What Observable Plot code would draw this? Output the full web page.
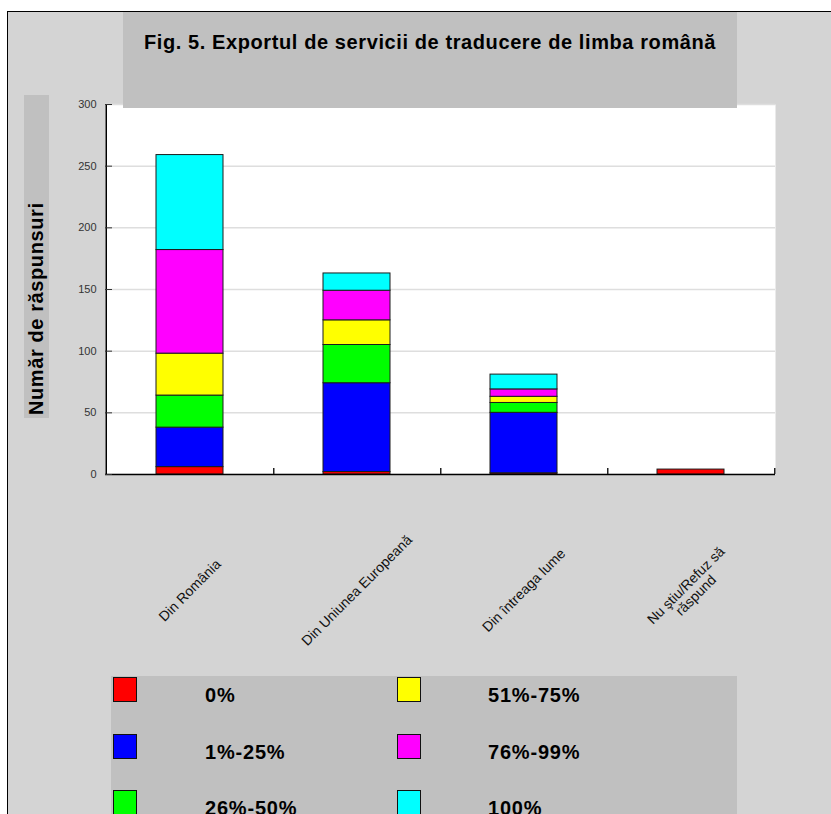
<!DOCTYPE html>
<html lang="ro">
<head>
<meta charset="utf-8">
<script src="https://cdn.jsdelivr.net/npm/d3@7"></script>
<script src="https://cdn.jsdelivr.net/npm/@observablehq/plot@0.6"></script>
<style>
  html, body { margin: 0; padding: 0; background: #ffffff; overflow: hidden; }
  body { width: 831px; height: 814px; position: relative; font-family: "Liberation Sans", Arial, sans-serif; }
  #frame { position: absolute; left: 7px; top: 11px; width: 900px; height: 900px;
           background: #d4d4d4; border-left: 1.5px solid #000; border-top: 1.5px solid #000; }
  #chart { position: absolute; left: 0; top: 0; }
  #title { position: absolute; left: 123px; top: 12px; width: 614px; height: 96px; background: #c0c0c0; }
  #title span { position: absolute; left: 0; right: 0; top: 20px; text-align: center;
                font-weight: bold; font-size: 20px; line-height: 20px; letter-spacing: 0.6px; color: #000; white-space: nowrap; }
  #ybox { position: absolute; left: 24px; top: 95px; width: 25px; height: 323px; background: #c0c0c0; }
  #ylabel { position: absolute; left: 26.4px; top: 415px; transform-origin: 0 0; transform: rotate(-90deg);
            font-weight: bold; font-size: 20px; line-height: 20px; letter-spacing: 0.6px; white-space: nowrap; color: #000; }
  #legend { position: absolute; left: 111px; top: 676px; width: 626px; height: 200px; background: #c0c0c0; }
  .sw { position: absolute; width: 24px; height: 25px; box-sizing: border-box; border: 1.5px solid #111; }
  .lt { position: absolute; font-weight: bold; font-size: 20px; line-height: 20px; letter-spacing: 0.8px; white-space: nowrap; color: #000; }
</style>
</head>
<body>
<div id="frame"></div>
<div id="chart"></div>
<div id="title"><span>Fig. 5. Exportul de servicii de traducere de limba română</span></div>
<div id="ybox"></div>
<div id="ylabel">Număr de răspunsuri</div>
<div id="legend"></div>
<script>
// Destinations of exported Romanian translation services
const categories = [
  "Din România",
  "Din Uniunea Europeană",
  "Din întreaga lume",
  "Nu ştiu/Refuz să\nrăspund"
];

// Share of exports, one series per answer band
const seriesNames  = ["0%", "1%-25%", "26%-50%", "51%-75%", "76%-99%", "100%"];
const seriesColors = ["#ff0000", "#0000ff", "#00ff00", "#ffff00", "#ff00ff", "#00ffff"];

// Number of answers per destination, for each band
const v0pct    = [6, 2, 1, 4];
const v1to25   = [32, 72, 49, 0];
const v26to50  = [26, 31, 8, 0];
const v51to75  = [34, 20, 5, 0];
const v76to99  = [84, 24, 6, 0];
const v100pct  = [77, 14, 12, 0];

const yTicks = [0, 50, 100, 150, 200, 250, 300];

const seriesValues = [v0pct, v1to25, v26to50, v51to75, v76to99, v100pct];
const rows = [];
seriesNames.forEach((s, si) => {
  categories.forEach((c, ci) => {
    const v = seriesValues[si][ci];
    if (v > 0) rows.push({cat: c, series: s, value: v});
  });
});

const W = 831, H = 660, ML = 105, MR = 56, MT = 104, MB = 186;
const step = (W - ML - MR) / categories.length;

const chart = Plot.plot({
  width: W,
  height: H,
  marginLeft: ML,
  marginRight: MR,
  marginTop: MT,
  marginBottom: MB,
  style: {background: "transparent", fontFamily: "'Liberation Sans', Arial, sans-serif", overflow: "visible"},
  x: {type: "band", domain: categories, paddingInner: 0.6, paddingOuter: 0.3, axis: null},
  y: {domain: [0, 300], axis: null},
  color: {domain: seriesNames, range: seriesColors},
  marks: [
    Plot.frame({fill: "#ffffff"}),
    Plot.gridY(yTicks, {stroke: "#dedede", strokeOpacity: 1, strokeWidth: 1.5}),
    Plot.barY(rows, {x: "cat", y: "value", fill: "series", stroke: "#1c1c1c", strokeWidth: 1}),
    Plot.ruleY([0], {stroke: "#000", strokeWidth: 1.5}),
    Plot.ruleX([categories[0]], {dx: -step / 2, y1: 0, y2: 300, stroke: "#000", strokeWidth: 1.5}),
    Plot.ruleX(categories, {x: d => d, dx: step / 2, y1: 0, y2: 0, insetTop: -6, stroke: "#222", strokeWidth: 1.5}),
    Plot.axisY({ticks: yTicks, tickSize: 7, dx: 7, tickPadding: 9, fontSize: 11, color: "#333", label: null, tickFormat: d => d}),
    Plot.text(categories, {
      x: d => d, text: d => d, frameAnchor: "bottom", dy: 116, rotate: -45,
      textAnchor: "middle", lineAnchor: "middle", fontSize: 14, fill: "#111", ariaLabel: "category-labels"
    })
  ]
});
document.getElementById("chart").appendChild(chart);
d3.select(chart).selectAll('g[aria-label="category-labels"] text').style("letter-spacing", "1.1px");

// Legend: two columns of three swatches
const legend = d3.select("#legend");
const colSwatch = [2, 286], colText = [94, 377], rowStep = 56.5;
seriesNames.forEach((name, i) => {
  const col = Math.floor(i / 3), row = i % 3;
  legend.append("div").attr("class", "sw")
    .style("left", colSwatch[col] + "px")
    .style("top", (1 + row * rowStep) + "px")
    .style("background", seriesColors[i]);
  legend.append("div").attr("class", "lt")
    .style("left", colText[col] + "px")
    .style("top", (9 + row * rowStep) + "px")
    .text(name);
});
</script>
</body>
</html>
